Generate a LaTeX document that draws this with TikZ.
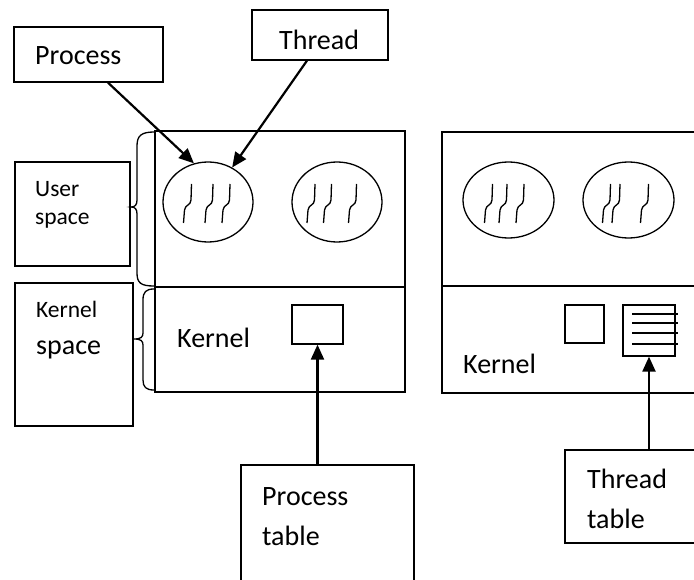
\documentclass[tikz,border=0pt]{standalone}
\usepackage{fontspec}
\setmainfont{Carlito}
\usetikzlibrary{arrows.meta,shapes.geometric}
\tikzset{
  box/.style={draw, line width=1.3pt, inner sep=0pt},
  blob/.style={draw, ellipse, line width=1.3pt, inner sep=0pt,
    minimum width=90pt, minimum height=80pt},
  lbl/.style={anchor=base west, inner sep=0pt, font=\fontsize{28}{28}\selectfont},
  lblsmall/.style={anchor=base west, inner sep=0pt, font=\fontsize{23.5}{23.5}\selectfont},
  arr/.style={line width=2.2pt, -{Triangle[length=15pt,width=13pt]}},
}
% three thread strands, x centres #1 #2 #3, y centre #4
\newcommand\strands[4]{%
  \foreach \sx in {#1,#2,#3}
    \draw[line width=1.3pt] ({\sx+4},{#4-19}) -- ({\sx+3.5},{#4-3})
      .. controls ({\sx+3},{#4+3}) and ({\sx-2},{#4+1}) .. ({\sx-3},{#4+7})
      -- ({\sx-4},{#4+20});}

\begin{document}
\begin{tikzpicture}[x=1pt,y=-1pt]
		\useasboundingbox (0,0) rectangle (694,580);
		\clip (0,0) rectangle (694,580);
		%%%%% LEFT: user-level threads %%%%%
		\draw[line width=1.3pt] (155,131) rectangle (405,392);
		\draw[line width=1.3pt] (155,287) -- (405,287);
		
		\node[blob] (pa) at (208,202) {};
		\node[blob] (pb) at (337,202) {};
		\strands{187.5}{209}{226}{203}
		\strands{311}{327.5}{352.5}{203}
		
		\node[box, minimum width=51pt, minimum height=39pt] (pbox) at (317.5,324.5) {};
		\node[lbl] (kerna) at (177,347) {Kernel};
		
		% braces
		\draw[line width=1.3pt] (154,132) .. controls (141,132) and (137,136) .. (137,146) -- (137,200)
			.. controls (137,205) and (135,207) .. (131,207) .. controls (135,207) and (137,209) .. (137,214)
			-- (137,273) .. controls (137,283) and (141,286) .. (154,286);
		\draw[line width=1.3pt] (154,289) .. controls (146,289) and (143,292) .. (143,300) -- (143,333)
			.. controls (143,337) and (141,339) .. (134,339) .. controls (141,339) and (143,341) .. (143,345)
			-- (143,380) .. controls (143,387) and (146,390) .. (154,390);
		
		\node[box, minimum width=115pt, minimum height=104pt] (ubox) at (72.5,214) {};
		\node[lblsmall] (utxt) at (35,197) {User};
		\node[lblsmall] (stxt) at (35,225) {space};
		\node[box, minimum width=118pt, minimum height=143pt] (kbox) at (74,354.5) {};
		\node[lblsmall] (ktxt) at (36,317) {Kernel};
		\node[lbl] (ksp) at (36,354) {space};
		
		\node[box, minimum width=149pt, minimum height=55pt] (proc) at (88.5,54.5) {};
		\node[lbl] (proctxt) at (35,65) {Process};
		\node[box, minimum width=136pt, minimum height=50pt] (thr) at (320,35) {};
		\node[lbl] (thrtxt) at (279,50) {Thread};
		
		\draw[arr] ([xshift=19.5pt]proc.south) -- (pa.110);
		\draw[arr] ([xshift=-13pt]thr.south) -- (pa.55);
		
		\node[box, minimum width=173pt, minimum height=140pt] (ptab) at (327.5,535) {};
		\node[lbl] (ptabtxt) at (262,505) {Process};
		\node[lbl] (ptabtxt2) at (262,545) {table};
		\draw[arr] (ptab.north -| pbox.south) -- (pbox.south);
		
		%%%%% RIGHT: kernel-level threads %%%%%
		\draw[line width=1.3pt] (442,132) rectangle (720,393);
		\draw[line width=1.3pt] (442,286) -- (720,286);
		
		\node[blob, minimum width=91pt, minimum height=76pt] (pc) at (508.5,200) {};
		\node[blob, minimum width=91pt, minimum height=76pt] (pd) at (628.5,200) {};
		\strands{488.5}{503}{520}{203}
		\strands{606.5}{616}{644.5}{203}
		
		\node[box, minimum width=39pt, minimum height=38pt] (sq) at (584.5,324) {};
		\node[box, minimum width=52pt, minimum height=51pt] (tbl) at (649,330.5) {};
		\foreach \ly in {314,323,333,344}
			\draw[line width=1.5pt] (632,\ly) -- (678,\ly);
		\node[lbl] (kernb) at (463,373) {Kernel};
		
		\node[box, minimum width=155pt, minimum height=93pt] (ttab) at (642.5,496.5) {};
		\node[lbl] (ttabtxt) at (587,488) {Thread};
		\node[lbl] (ttabtxt2) at (587,528) {table};
		\draw[arr] (ttab.north -| tbl.south) -- (tbl.south);
		%%%%% END %%%%%
	\end{tikzpicture}
\end{document}
